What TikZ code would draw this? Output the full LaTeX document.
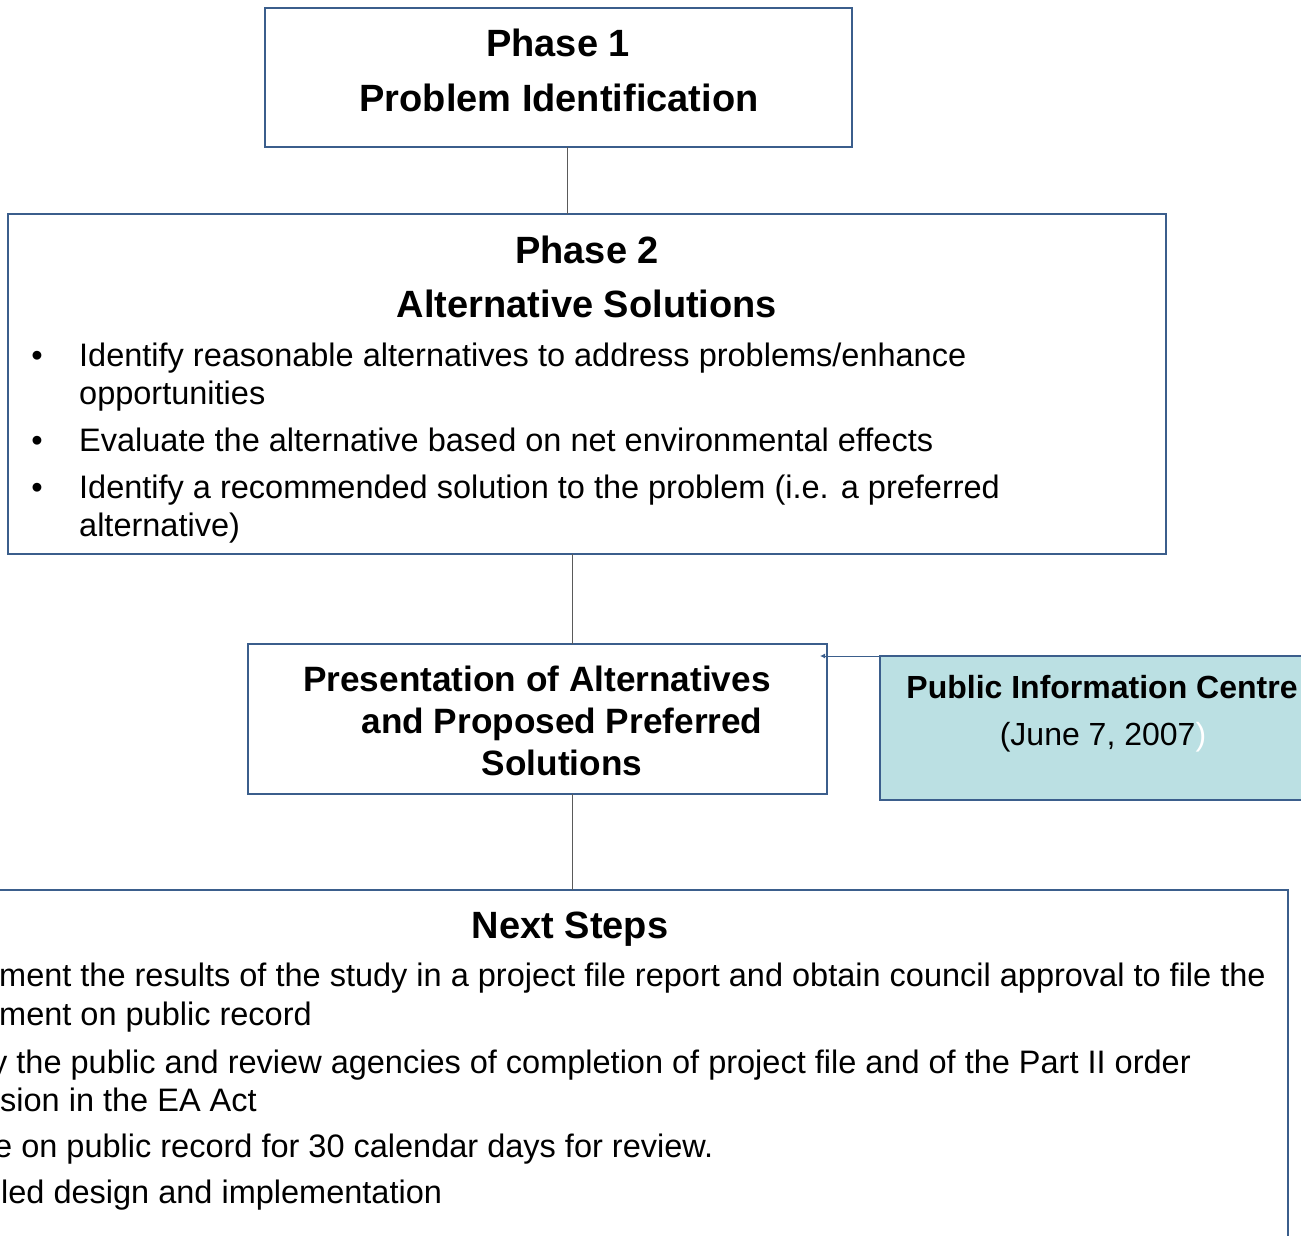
\documentclass[tikz,border=0pt]{standalone}
\usepackage{fontspec}
\setmainfont{Liberation Sans}
\usepackage{xcolor}
\usetikzlibrary{positioning,arrows.meta}

\definecolor{boxblue}{HTML}{3B5E8C}
\definecolor{linegray}{HTML}{5A5A5A}
\definecolor{picfill}{HTML}{BBE0E3}

\tikzset{
  phasebox/.style={draw=boxblue, line width=1.5pt, inner sep=0pt, outer sep=0pt, anchor=north west},
  headline/.style={font=\fontsize{38}{44}\selectfont\bfseries, inner sep=0pt, anchor=base},
  presline/.style={font=\fontsize{35.2}{42}\selectfont\bfseries, inner sep=0pt, anchor=base},
  picline/.style={font=\fontsize{32}{38}\selectfont, inner sep=0pt, anchor=base},
  bodyline/.style={font=\fontsize{32.5}{38}\selectfont, inner sep=0pt, anchor=base west},
  dotmark/.style={font=\fontsize{32.5}{38}\selectfont, inner sep=0pt, anchor=base},
  link/.style={draw=linegray, line width=1pt},
}

\begin{document}
\begin{tikzpicture}[x=1pt, y=-1pt]
    \useasboundingbox (0,0) rectangle (1301,1236);
    \clip (0,0) rectangle (1301,1236);

    % boxes
    \node [phasebox, minimum width=587pt, minimum height=139pt] (P1) at (265,8) {};
    \node [phasebox, minimum width=1158pt, minimum height=340pt] (P2) at (8,214) {};
    \node [phasebox, minimum width=579pt, minimum height=150pt] (Pres) at (248,644) {};
    \node [phasebox, fill=picfill, minimum width=440pt, minimum height=144pt] (PIC) at (880,656) {};
    \node [phasebox, minimum width=1308pt, minimum height=400pt] (Next) at (-20,890) {};

    % phase 1
    \node [headline] (P1a) at (558,57) {Phase 1};
    \node [headline] (P1b) at (559,112) {Problem Identification};

    % phase 2
    \node [headline] (P2a) at (587,263) {Phase 2};
    \node [headline] (P2b) at (587,317) {Alternative Solutions};
    \node [dotmark] (d1) at (37,366) {•};
    \node [bodyline] (s1a) at (79,366) {Identify reasonable alternatives to address problems/enhance};
    \node [bodyline] (s1b) at (79,404) {opportunities};
    \node [dotmark] (d2) at (37,451) {•};
    \node [bodyline] (s2) at (79,451) {Evaluate the alternative based on net environmental effects};
    \node [dotmark] (d3) at (37,498) {•};
    \node [bodyline] (s3a) at (79,498) {Identify a recommended solution to the problem (i.e. a preferred};
    \node [bodyline] (s3b) at (79,536) {alternative)};

    % presentation
    \node [presline] (Pr1) at (537,691) {Presentation of Alternatives};
    \node [presline] (Pr2) at (562,733) {and Proposed Preferred};
    \node [presline] (Pr3) at (562,775) {Solutions};

    % public information centre
    \node [picline, font=\fontsize{32}{38}\selectfont\bfseries] (PICa) at (1102,698) {Public Information Centre};
    \node [picline] (PICb) at (1103,745) {(June 7, 2007\textcolor{white}{)}};

    % next steps
    \node [headline] (N0) at (570,938) {Next Steps};
    \node [bodyline] (n1a) at (-1,986) {ment the results of the study in a project file report and obtain council approval to file the};
    \node [bodyline] (n1b) at (-1,1025) {ment on public record};
    \node [bodyline] (n2a) at (-9,1073) {y the public and review agencies of completion of project file and of the Part II order};
    \node [bodyline] (n2b) at (0,1111) {sion in the EA Act};
    \node [bodyline] (n3) at (-6,1157) {e on public record for 30 calendar days for review.};
    \node [bodyline] (n4) at (1,1203) {led design and implementation};

    % connectors
    \coordinate (x12) at (567,0);
    \coordinate (x23) at (572,0);
    \coordinate (tip) at (820,656);
    \draw [link] (P1.south -| x12) -- (P2.north -| x12);
    \draw [link] (P2.south -| x23) -- (Pres.north -| x23);
    \draw [link] (Pres.south -| x23) -- (Next.north -| x23);
    \draw [draw=boxblue, line width=1pt, -{Latex[length=5pt,width=5pt]}] (PIC.north west) -- (tip);
\end{tikzpicture}
\end{document}
